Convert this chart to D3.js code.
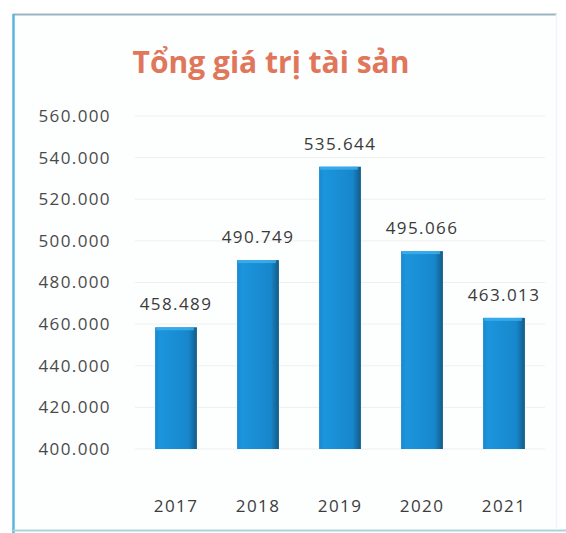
<!DOCTYPE html>
<html>
<head>
<meta charset="utf-8">
<script src="https://cdn.jsdelivr.net/npm/d3@7"></script>
<style>
  html, body { margin: 0; padding: 0; background: #ffffff; }
  svg { display: block; }
</style>
</head>
<body>
<svg id="chart" width="566" height="533"></svg>
<script>
// Total asset value by year
const years = ["2017", "2018", "2019", "2020", "2021"];
const totals = [458.489, 490.749, 535.644, 495.066, 463.013];
const yTicks = [400, 420, 440, 460, 480, 500, 520, 540, 560];
const title = "Tổng giá trị tài sản";

const svg = d3.select("#chart");
const W = 566, H = 533;
const FONT = "'Open Sans', sans-serif";

// frame of the chart area
svg.append("rect").attr("x", 0).attr("y", 0).attr("width", W).attr("height", H).attr("fill", "#ffffff");
svg.append("rect").attr("x", 14).attr("y", 15).attr("width", 542).attr("height", 514)
  .attr("fill", "#fdfefe");
svg.append("line").attr("x1", 13).attr("x2", 557).attr("y1", 14.5).attr("y2", 14.5)
  .attr("stroke", "#9db3c2").attr("stroke-width", 2);
svg.append("line").attr("x1", 13.5).attr("x2", 13.5).attr("y1", 14).attr("y2", 533)
  .attr("stroke", "#5ab6de").attr("stroke-width", 2.5);
svg.append("line").attr("x1", 13).attr("x2", 566).attr("y1", 530.5).attr("y2", 530.5)
  .attr("stroke", "#a9d3d8").attr("stroke-width", 2);
svg.append("line").attr("x1", 556.5).attr("x2", 556.5).attr("y1", 14).attr("y2", 530)
  .attr("stroke", "#eef6fa").attr("stroke-width", 1.5);

const x = d3.scaleBand().domain(years).range([135, 545]).paddingInner(0.49).paddingOuter(0.245);
const y = d3.scaleLinear().domain([400, 560]).range([449, 116]);

const defs = svg.append("defs");
const grad = defs.append("linearGradient").attr("id", "barFill").attr("x1", 0).attr("x2", 1).attr("y1", 0).attr("y2", 0);
grad.append("stop").attr("offset", "0%").attr("stop-color", "#1888d0");
grad.append("stop").attr("offset", "12%").attr("stop-color", "#1c95dc");
grad.append("stop").attr("offset", "80%").attr("stop-color", "#1787cc");
grad.append("stop").attr("offset", "100%").attr("stop-color", "#135a85");

// gridlines
svg.append("g")
  .selectAll("line")
  .data(yTicks)
  .join("line")
  .attr("x1", 135).attr("x2", 545)
  .attr("y1", d => y(d)).attr("y2", d => y(d))
  .attr("stroke", "#efefef").attr("stroke-width", 1);

// y axis labels
const yAxis = d3.axisLeft(y).tickValues(yTicks).tickSize(0).tickPadding(0)
  .tickFormat(d => d3.format(".3f")(d));
const gy = svg.append("g").attr("transform", "translate(111,0)").call(yAxis);
gy.select(".domain").remove();
gy.selectAll("text")
  .attr("font-family", FONT)
  .attr("font-size", 17)
  .attr("letter-spacing", "1.4px")
  .attr("fill", "#4a4a4a");

// x axis labels
const xAxis = d3.axisBottom(x).tickSize(0).tickPadding(0);
const gx = svg.append("g").attr("transform", "translate(0,500)").call(xAxis);
gx.select(".domain").remove();
gx.selectAll("text")
  .attr("font-family", FONT)
  .attr("font-size", 17)
  .attr("letter-spacing", "1.4px")
  .attr("fill", "#3c3c3c");

// bars
svg.append("g")
  .selectAll("rect")
  .data(totals)
  .join("rect")
  .attr("x", (d, i) => x(years[i]))
  .attr("width", x.bandwidth())
  .attr("y", d => y(d))
  .attr("height", d => y(400) - y(d))
  .attr("fill", "url(#barFill)");

// top highlight of bars
svg.append("g")
  .selectAll("rect")
  .data(totals)
  .join("rect")
  .attr("x", (d, i) => x(years[i]) + 1)
  .attr("width", x.bandwidth() - 4)
  .attr("y", d => y(d))
  .attr("height", 3)
  .attr("fill", "#3fb2ee")
  .attr("opacity", 0.8);

// value labels
svg.append("g")
  .selectAll("text")
  .data(totals)
  .join("text")
  .attr("x", (d, i) => x(years[i]) + x.bandwidth() / 2)
  .attr("y", d => y(d) - 17)
  .attr("text-anchor", "middle")
  .attr("font-family", FONT)
  .attr("font-size", 17)
  .attr("letter-spacing", "1.4px")
  .attr("fill", "#3a3a3a")
  .text(d => d3.format(".3f")(d));

// title
svg.append("text")
  .attr("x", 271)
  .attr("y", 73)
  .attr("text-anchor", "middle")
  .attr("font-family", FONT)
  .attr("font-weight", 700)
  .attr("font-size", 30)
  .attr("fill", "#e0765a")
  .text(title);
</script>
</body>
</html>
